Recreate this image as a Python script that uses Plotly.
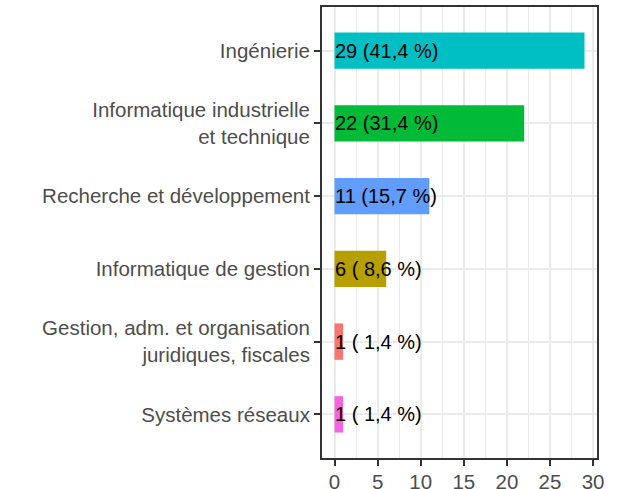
import plotly.graph_objects as go

# Data (top to bottom in the chart)
categories = [
    "Ingénierie",
    "Informatique industrielle<br>et technique",
    "Recherche et développement",
    "Informatique de gestion",
    "Gestion, adm. et organisation<br>juridiques, fiscales",
    "Systèmes réseaux",
]
counts = [29, 22, 11, 6, 1, 1]
colors = ["#00BFC4", "#00BA38", "#619CFF", "#B79F00", "#F8766D", "#F564E3"]
x_ticks = [0, 5, 10, 15, 20, 25, 30]

total = sum(counts)
labels = [f"{n} ({100 * n / total:4.1f} %)".replace(".", ",") for n in counts]

FONT = "Liberation Sans, Arial, sans-serif"

fig = go.Figure()
fig.add_trace(go.Bar(
    x=counts,
    y=categories,
    orientation="h",
    width=0.5,
    marker=dict(color=colors, line=dict(width=0)),
    showlegend=False,
    hoverinfo="skip",
))

for cat, lab in zip(categories, labels):
    fig.add_annotation(
        x=0, y=cat, text=lab, showarrow=False,
        xanchor="left", yanchor="middle",
        font=dict(family=FONT, size=20, color="black"),
        xshift=-2,
    )

fig.update_layout(
    width=624, height=489,
    margin=dict(l=322, r=27, t=7, b=31, pad=0),
    paper_bgcolor="white",
    plot_bgcolor="white",
    bargap=0.5,
    font=dict(family=FONT, size=20, color="#4D4D4D"),
)

fig.update_xaxes(
    range=[-1.45, 30.45],
    tickvals=x_ticks,
    ticktext=[str(v) for v in x_ticks],
    showgrid=True, gridcolor="#EBEBEB", gridwidth=2,
    minor=dict(dtick=2.5, tick0=0, showgrid=True, gridcolor="#EBEBEB", gridwidth=1, ticks=""),
    zeroline=False,
    showline=True, linecolor="#333333", linewidth=2, mirror=True,
    ticks="outside", ticklen=6, tickwidth=1.5, tickcolor="#333333",
    ticklabelstandoff=-2,
    tickfont=dict(family=FONT, size=20.5, color="#4D4D4D"),
    automargin=False,
)
fig.update_yaxes(
    categoryorder="array",
    categoryarray=categories[::-1],
    range=[-0.6, 5.6],
    showgrid=True, gridcolor="#EBEBEB", gridwidth=2,
    zeroline=False,
    showline=True, linecolor="#333333", linewidth=2, mirror=True,
    ticks="outside", ticklen=6, tickwidth=1.5, tickcolor="#333333",
    tickfont=dict(family=FONT, size=20.5, color="#4D4D4D"),
    automargin=False,
)

fig.write_html(
    "out.html",
    config={"displayModeBar": False},
    post_script="document.body.style.margin='0';document.body.style.padding='0';",
)
